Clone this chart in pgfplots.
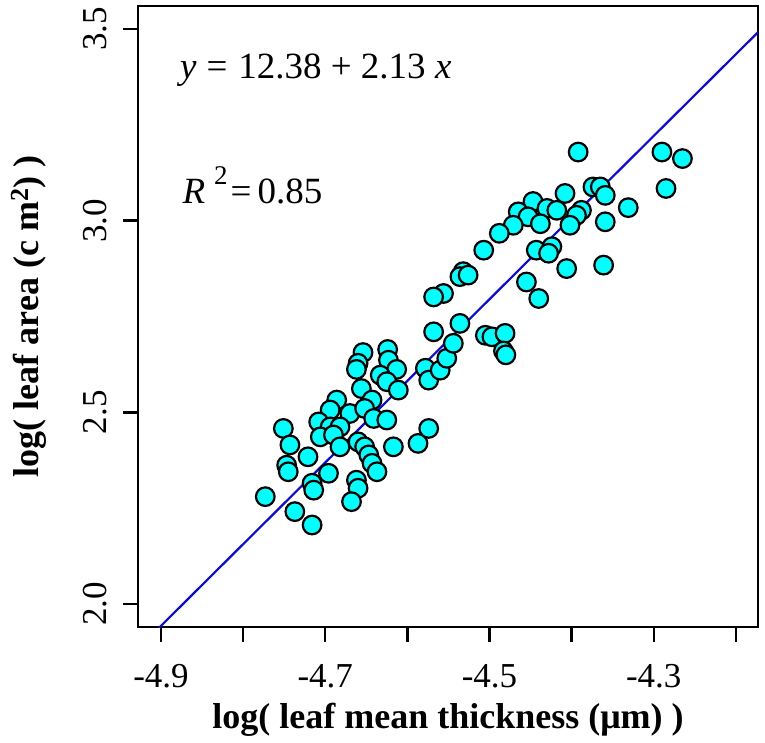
\documentclass[border=0pt]{standalone}
\usepackage{fontspec}
\setmainfont{Liberation Serif}
\usepackage{pgfplots}
\pgfplotsset{compat=1.18}
\definecolor{ptfill}{RGB}{0,255,255}
\definecolor{fitblue}{RGB}{10,10,225}
\pgfplotstableread{
x y
-4.654 2.656
-4.624 2.664
-4.660 2.628
-4.662 2.612
-4.623 2.636
-4.613 2.612
-4.633 2.597
-4.625 2.580
-4.656 2.562
-4.611 2.558
-4.578 2.615
-4.574 2.584
-4.560 2.610
-4.552 2.641
-4.544 2.680
-4.686 2.532
-4.643 2.532
-4.694 2.506
-4.670 2.497
-4.652 2.510
-4.641 2.484
-4.625 2.480
-4.708 2.475
-4.694 2.462
-4.682 2.462
-4.751 2.458
-4.706 2.436
-4.690 2.441
-4.682 2.410
-4.660 2.423
-4.652 2.410
-4.743 2.415
-4.721 2.384
-4.617 2.410
-4.587 2.419
-4.574 2.458
-4.647 2.389
-4.643 2.367
-4.747 2.362
-4.745 2.345
-4.637 2.345
-4.696 2.341
-4.662 2.323
-4.660 2.302
-4.716 2.315
-4.714 2.297
-4.773 2.280
-4.668 2.267
-4.737 2.241
-4.716 2.206
-4.392 3.179
-4.374 3.088
-4.365 3.088
-4.408 3.071
-4.447 3.050
-4.465 3.023
-4.430 3.032
-4.418 3.027
-4.388 3.027
-4.394 3.014
-4.453 3.010
-4.438 2.992
-4.402 2.988
-4.471 2.988
-4.488 2.967
-4.507 2.923
-4.443 2.923
-4.424 2.932
-4.428 2.915
-4.406 2.875
-4.455 2.840
-4.440 2.797
-4.532 2.867
-4.536 2.854
-4.526 2.858
-4.556 2.810
-4.568 2.801
-4.568 2.710
-4.536 2.732
-4.505 2.701
-4.497 2.697
-4.481 2.706
-4.483 2.660
-4.480 2.650
-4.290 3.179
-4.265 3.162
-4.285 3.084
-4.331 3.034
-4.359 3.066
-4.359 2.997
-4.361 2.884
}\pts
\begin{document}
\begin{tikzpicture}
\begin{axis}[
  scale only axis, width=620bp, height=621bp,
  xmin=-4.928, xmax=-4.173, ymin=1.940, ymax=3.56,
  axis line style={line width=2.4bp, black},
  xtick={-4.9,-4.8,-4.7,-4.6,-4.5,-4.4,-4.3,-4.2},
  xticklabels={-4.9,,-4.7,,-4.5,,-4.3,},
  ytick={2.0,2.5,3.0,3.5},
  yticklabels={2.0,2.5,3.0,3.5},
  xtick pos=left, ytick pos=left,
  tick align=outside,
  major tick length=15bp,
  every tick/.style={black, line width=2.4bp},
  tick label style={font=\fontsize{35bp}{35bp}\selectfont},
  xticklabel style={yshift=-22bp, anchor=north, inner sep=0pt},
  yticklabel style={xshift=-16bp, rotate=90, anchor=south, inner sep=0pt},
  xlabel={\textbf{log( leaf mean thickness (μm) )}},
  ylabel={\textbf{log( leaf area (c m\raisebox{10bp}{\fontsize{26bp}{26bp}\selectfont 2}) )}},
  label style={font=\fontsize{36bp}{36bp}\selectfont},
  xlabel style={at={(axis description cs:0.5,-0.150)}, anchor=center},
  ylabel style={at={(axis description cs:-0.176,0.5)}, anchor=center},
]
\addplot[fitblue, line width=2.2bp] coordinates {(-4.95,1.8365) (-4.15,3.5405)};
\addplot[only marks, mark=*, mark size=9.3bp, mark options={fill=ptfill, draw=black, line width=2.2bp}] table[x=x,y=y] {\pts};
\node[anchor=base west, inner sep=0pt, font=\fontsize{37bp}{37bp}\selectfont] at (axis cs:-4.877,3.372) {\textit{y}\hspace{10bp}=\hspace{11bp}12.38 + 2.13 \textit{x}};
\node[anchor=base west, inner sep=0pt, font=\fontsize{37bp}{37bp}\selectfont] at (axis cs:-4.874,3.046) {\textit{R}\hspace{9bp}\raisebox{19bp}{\fontsize{27bp}{27bp}\selectfont 2}\hspace{3bp}=\hspace{6bp}0.85};
\end{axis}
\pgfresetboundingbox
\path[use as bounding box] ([xshift=-138bp,yshift=-116bp]current axis.south west) rectangle ++(765bp,743bp);
\end{tikzpicture}
\end{document}
